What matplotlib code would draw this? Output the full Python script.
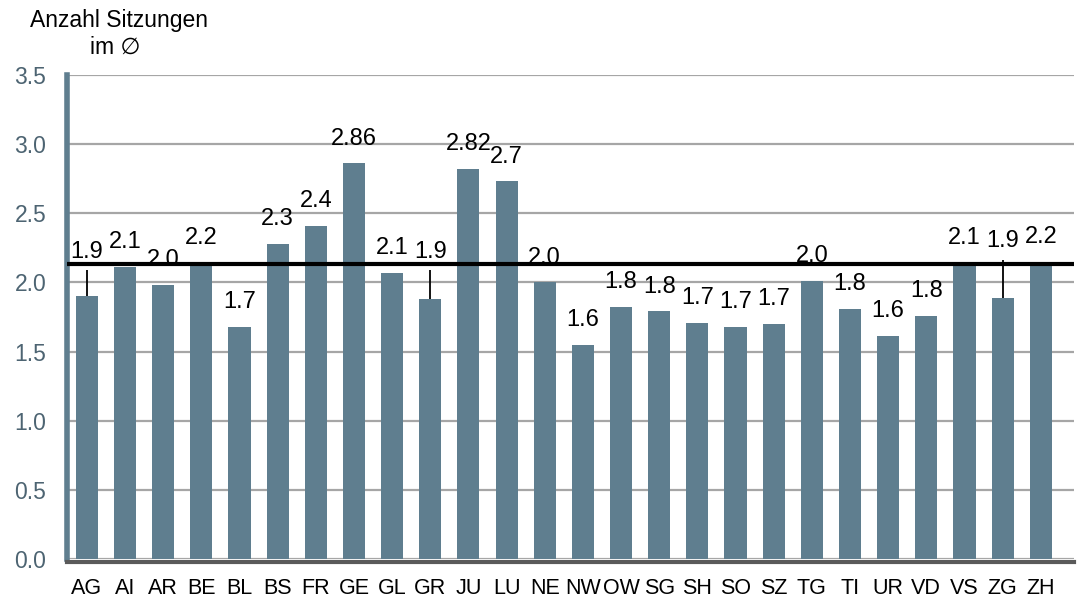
import matplotlib
matplotlib.use("Agg")
import matplotlib.pyplot as plt
from matplotlib import font_manager

cantons = ["AG", "AI", "AR", "BE", "BL", "BS", "FR", "GE", "GL", "GR", "JU", "LU", "NE",
           "NW", "OW", "SG", "SH", "SO", "SZ", "TG", "TI", "UR", "VD", "VS", "ZG", "ZH"]
values = [1.90, 2.11, 1.98, 2.14, 1.68, 2.28, 2.41, 2.86, 2.07, 1.88, 2.82, 2.73, 2.00,
          1.55, 1.82, 1.79, 1.71, 1.68, 1.70, 2.01, 1.81, 1.61, 1.76, 2.14, 1.89, 2.15]
labels = ["1.9", "2.1", "2.0", "2.2", "1.7", "2.3", "2.4", "2.86", "2.1", "1.9", "2.82", "2.7", "2.0",
          "1.6", "1.8", "1.8", "1.7", "1.7", "1.7", "2.0", "1.8", "1.6", "1.8", "2.1", "1.9", "2.2"]
leader = ["AG", "GR", "ZG"]
average = 2.13
yticks = [0.0, 0.5, 1.0, 1.5, 2.0, 2.5, 3.0, 3.5]

avail = {f.name for f in font_manager.fontManager.ttflist}
base = "Liberation Sans" if "Liberation Sans" in avail else "DejaVu Sans"
plt.rcParams["font.family"] = [base, "DejaVu Sans"]

bar_color = "#5f7e8f"
tick_color = "#4d6472"

fig = plt.figure(figsize=(10.77, 5.99), dpi=100)
ax = fig.add_axes([0.0622, 0.0668, 0.935, 0.808])

x = list(range(len(cantons)))
ax.bar(x, values, width=0.58, color=bar_color, zorder=2)
ax.set_xlim(-0.52, 25.87)
ax.set_ylim(0, 3.5)
ax.set_yticks(yticks)
ax.set_yticklabels([f"{t:.1f}" for t in yticks])
ax.yaxis.grid(True, color="#a6a6a6", linewidth=1.6, zorder=0)
ax.set_axisbelow(True)
ax.tick_params(axis="y", length=0, pad=15, labelsize=16.5, labelcolor=tick_color)
ax.set_xticks(x)
ax.set_xticklabels(cantons)
ax.tick_params(axis="x", length=0, pad=12, labelsize=15.5, labelcolor="black")

for s in ["top", "right"]:
    ax.spines[s].set_visible(False)
ax.spines["left"].set_color(bar_color)
ax.spines["left"].set_linewidth(4)
ax.spines["bottom"].set_color("#5a5a5a")
ax.spines["bottom"].set_linewidth(3)
ax.spines["bottom"].set_position(("outward", 2))

ax.axhline(average, color="black", linewidth=3, zorder=4)

for xi, c, v, lab in zip(x, cantons, values, labels):
    if c in leader:
        top = average + (0.03 if c == "ZG" else -0.04)
        ty = average + (0.17 if c == "ZG" else 0.09)
        ax.vlines(xi, v, top, color="black", linewidth=1.3, zorder=3)
    else:
        ty = v + 0.18
    ax.text(xi, ty, lab, ha="center", va="center", fontsize=17, color="black", zorder=5)

fig.text(0.028, 0.965, "Anzahl Sitzungen", fontsize=16.5, ha="left", va="center")
fig.text(0.107, 0.921, "im \u2205", fontsize=16.5, ha="center", va="center")

fig.savefig("out.png", dpi=100)
